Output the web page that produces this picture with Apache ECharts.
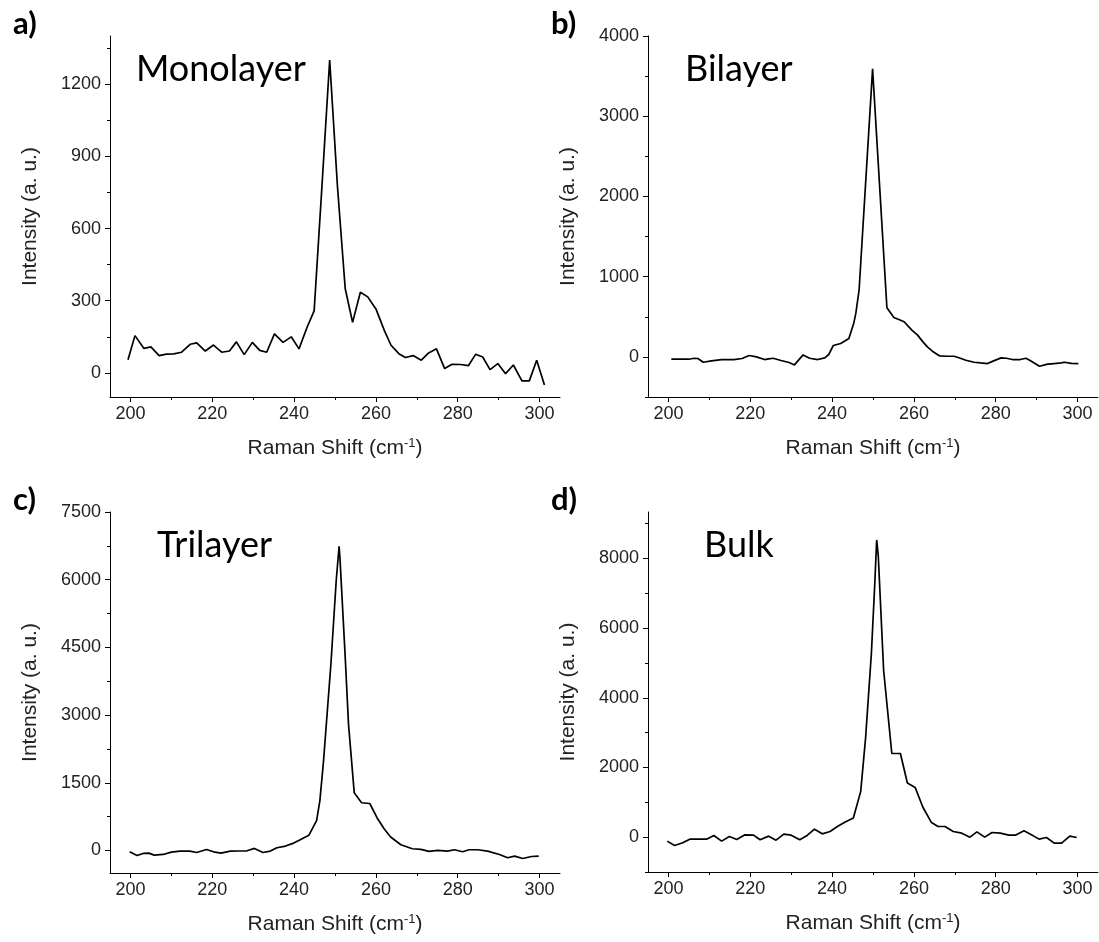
<!DOCTYPE html>
<html>
<head>
<meta charset="utf-8">
<title>Raman spectra</title>
<script src="https://cdn.jsdelivr.net/npm/echarts@6/dist/echarts.min.js"></script>
<style>
  html, body { margin: 0; padding: 0; background: #fff; }
  #chart { width: 1099px; height: 942px; }
</style>
</head>
<body>
<div id="chart"></div>
<script>
// x ticks shared by all four panels
const xTicks = [200, 220, 240, 260, 280, 300];
const xMinor = [210, 230, 250, 270, 290];

// a) monolayer
const monoX = [199.4, 201.1, 203.3, 205.0, 207.0, 208.8, 210.6, 212.5, 214.6, 216.2, 218.3, 220.3, 222.3, 224.2, 225.9,
  227.8, 229.8, 231.6, 233.3, 235.2, 237.3, 239.3, 241.2, 243.2, 244.9, 246.9, 248.7, 250.6, 252.5, 254.3, 256.2,
  258.0, 260.0, 262.1, 263.7, 265.6, 267.2, 269.1, 271.1, 272.9, 274.8, 276.8, 278.6, 280.7, 282.6, 284.4, 286.1,
  287.9, 289.8, 291.7, 293.6, 295.7, 297.5, 299.3, 301.2];
const monoY = [55, 155, 102, 108, 72, 78, 79, 86, 119, 125, 91, 116, 86, 91, 129,
  76, 127, 94, 86, 162, 127, 150, 100, 191, 258, 800, 1300, 775, 350, 210, 335,
  316, 266, 175, 115, 80, 64, 72, 53, 83, 100, 18, 36, 35, 30, 78, 66,
  14, 39, -3, 33, -33, -33, 53, -50];
const monoTicks = [0, 300, 600, 900, 1200];
const monoMinor = [150, 450, 750, 1050, 1350];

// b) bilayer
const biX = [200.7, 203, 205, 206.3, 207.2, 208.5, 210.5, 213, 216, 218, 219.7, 221.5, 223.5, 224.5, 225.6, 227.5,
  229.5, 230.8, 232.9, 234.5, 236.5, 238.2, 239.2, 240.3, 242.1, 244.1, 245.3, 245.8, 246.6, 249.9, 253.4, 255.1,
  256.6, 257.6, 259.5, 260.9, 262.2, 263.3, 264.8, 266.3, 268, 269.8, 271, 272.7, 274.7, 276.3, 278, 279.5,
  281.3, 282.6, 284.1, 286, 287.4, 288.4, 290.7, 292.7, 294.3, 296, 296.8, 298.5, 300.2];
const biY = [-29, -29, -29, -17, -20, -67, -50, -33, -33, -20, 17, 0, -33, -25, -17, -45,
  -70, -100, 25, -17, -33, -12, 30, 142, 167, 229, 420, 542, 833, 3590, 613, 492,
  460, 438, 333, 271, 187, 125, 60, 12, 8, 8, -10, -42, -67, -75, -83, -50,
  -12, -17, -33, -33, -17, -45, -117, -91, -83, -75, -67, -80, -83];
const biTicks = [0, 1000, 2000, 3000, 4000];
const biMinor = [-500, 500, 1500, 2500, 3500];

// c) trilayer
const triX = [199.8, 201.6, 203.1, 204.5, 205.8, 208, 210, 212.1, 214.5, 216.2, 218.6, 220.3, 222.1, 224.4, 226.5,
  228.5, 230.3, 232.4, 234.2, 235.8, 237.9, 239.9, 241.5, 243.6, 245.5, 246.3, 247.2, 249, 250.3, 251.0, 251.2,
  252.5, 253.3, 254.7, 256.5, 258.5, 260.3, 262, 263.6, 266.1, 268.9, 271, 273, 275.1, 277.5, 279.2, 281.2,
  282.8, 284.9, 287.3, 290.2, 292.2, 293.9, 295.9, 298, 299.8];
const triY = [-30, -111, -67, -60, -104, -89, -37, -15, -15, -45, 22, -30, -59, -15, -12,
  -8, 45, -45, -15, 59, 97, 163, 238, 334, 661, 1100, 1984, 4131, 5982, 6737, 6500,
  4279, 2800, 1280, 1057, 1040, 720, 480, 297, 126, 37, 22, -22, 0, -15, 15, -30,
  15, 15, -15, -89, -163, -126, -178, -134, -126];
const triTicks = [0, 1500, 3000, 4500, 6000, 7500];
const triMinor = [750, 2250, 3750, 5250, 6750];

// d) bulk
const bulkX = [199.7, 201.5, 203.5, 205.2, 207.3, 209.3, 211.1, 213, 214.9, 216.7, 218.7, 220.8, 222.4, 224.5, 226.3,
  228.2, 230, 232.1, 233.9, 235.7, 237.6, 239.5, 241.3, 243.1, 245.2, 247, 248.2, 249.6, 250.4, 250.9, 251.3,
  252.6, 254.6, 256.7, 258.4, 260.3, 262.2, 264.3, 265.9, 267.6, 269.6, 271.7, 273.7, 275.4, 277.3, 279.1, 281.1,
  283.2, 284.8, 286.9, 288.5, 290.6, 292.4, 294.3, 296.1, 298.1, 299.8];
const bulkY = [-114, -238, -162, -57, -57, -57, 48, -114, 19, -67, 67, 57, -76, 29, -86,
  86, 57, -76, 48, 229, 95, 162, 305, 429, 552, 1314, 2862, 5263, 7184, 8528, 8048,
  4783, 2400, 2400, 1552, 1428, 857, 419, 305, 305, 162, 114, 0, 152, 0, 133, 114,
  57, 57, 181, 86, -57, -10, -171, -171, 29, -10];
const bulkTicks = [0, 2000, 4000, 6000, 8000];
const bulkMinor = [-1000, 1000, 3000, 5000, 7000, 9000];

const panels = [
  { tag: 'a)', title: 'Monolayer', x: monoX, y: monoY, ticks: monoTicks, minor: monoMinor, min: -100, max: 1400,
    left: 110, top: 36, height: 361, titleLeft: 131 },
  { tag: 'b)', title: 'Bilayer', x: biX, y: biY, ticks: biTicks, minor: biMinor, min: -500, max: 4000,
    left: 648, top: 36, height: 361, titleLeft: 680 },
  { tag: 'c)', title: 'Trilayer', x: triX, y: triY, ticks: triTicks, minor: triMinor, min: -500, max: 7500,
    left: 110, top: 512, height: 361, titleLeft: 152 },
  { tag: 'd)', title: 'Bulk', x: bulkX, y: bulkY, ticks: bulkTicks, minor: bulkMinor, min: -1000, max: 9330,
    left: 648, top: 512, height: 360, titleLeft: 699 }
];

const sansFont = '"Liberation Sans", Arial, sans-serif';
const titleFont = 'Lato, "Noto Sans", sans-serif';
const black = { color: '#000', width: 1 };
const plain = v => String(v);

const grids = [], xAxes = [], yAxes = [], series = [], titles = [];

panels.forEach((p, i) => {
  grids.push({ left: p.left, top: p.top, width: 450, height: p.height });

  // main x axis with labels, plus one carrying only minor ticks
  xAxes.push({
    type: 'value', gridIndex: i, position: 'bottom', min: 195, max: 305,
    axisLine: { show: true, onZero: false, lineStyle: black },
    axisTick: { show: true, customValues: xTicks, length: 5, lineStyle: black },
    axisLabel: { customValues: xTicks, formatter: plain, fontSize: 18, color: '#222', margin: 8, fontFamily: sansFont },
    splitLine: { show: false },
    name: 'Raman Shift (cm{sup|-1})', nameLocation: 'middle', nameGap: 40,
    nameTextStyle: {
      fontSize: 21, color: '#222', fontFamily: sansFont,
      rich: { sup: { fontSize: 13, color: '#222', fontFamily: sansFont, padding: [0, 0, 10, 0] } }
    }
  });
  xAxes.push({
    type: 'value', gridIndex: i, position: 'bottom', min: 195, max: 305,
    axisLine: { show: false, onZero: false },
    axisTick: { show: true, customValues: xMinor, length: 3, lineStyle: black },
    axisLabel: { show: false }, splitLine: { show: false }
  });

  yAxes.push({
    type: 'value', gridIndex: i, position: 'left', min: p.min, max: p.max,
    axisLine: { show: true, onZero: false, lineStyle: black },
    axisTick: { show: true, customValues: p.ticks, length: 5, lineStyle: black },
    axisLabel: { customValues: p.ticks, formatter: plain, fontSize: 18, color: '#222', margin: 9, fontFamily: sansFont },
    splitLine: { show: false },
    name: 'Intensity (a. u.)', nameLocation: 'middle', nameGap: 69,
    nameTextStyle: { fontSize: 21, color: '#222', fontFamily: sansFont }
  });
  yAxes.push({
    type: 'value', gridIndex: i, position: 'left', min: p.min, max: p.max,
    axisLine: { show: false, onZero: false },
    axisTick: { show: true, customValues: p.minor, length: 3, lineStyle: black },
    axisLabel: { show: false }, splitLine: { show: false }
  });

  series.push({
    type: 'line', xAxisIndex: 2 * i, yAxisIndex: 2 * i,
    data: p.x.map((v, k) => [v, p.y[k]]),
    showSymbol: false, animation: false,
    lineStyle: { color: '#000', width: 1.7 }
  });

  titles.push({
    text: p.tag, left: p.left - 102, top: p.top - 33,
    textStyle: { fontSize: 31, fontWeight: 'bold', color: '#000', fontFamily: titleFont }
  });
  titles.push({
    text: p.title, left: p.titleLeft, top: p.top + 10,
    textStyle: { fontSize: 36, fontWeight: 'normal', color: '#000', fontFamily: titleFont }
  });
});

const chart = echarts.init(document.getElementById('chart'));
chart.setOption({
  animation: false,
  title: titles,
  grid: grids,
  xAxis: xAxes,
  yAxis: yAxes,
  series: series
});
</script>
</body>
</html>
